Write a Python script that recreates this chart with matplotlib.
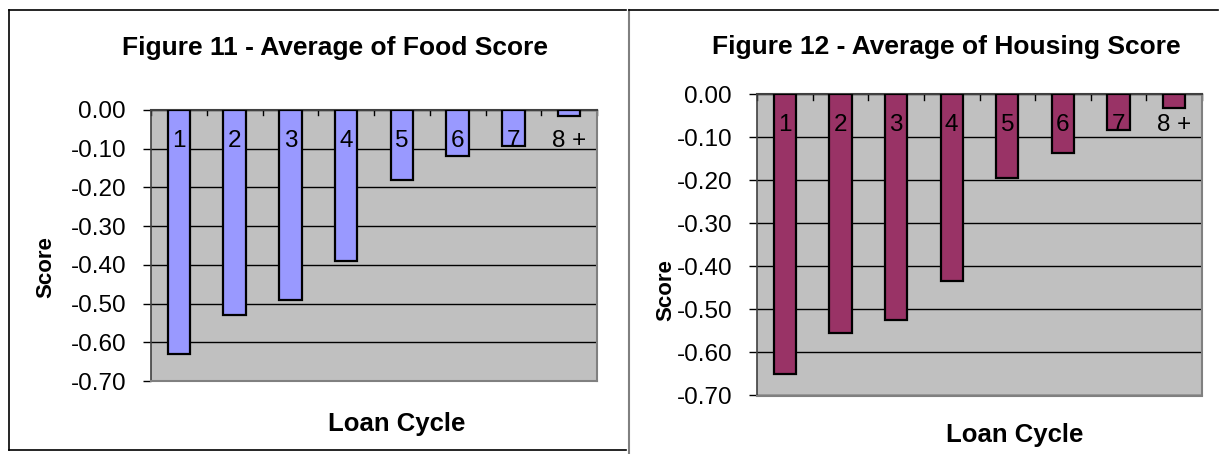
import matplotlib
matplotlib.use("Agg")
import matplotlib.pyplot as plt
from matplotlib.lines import Line2D
import numpy as np

plt.rcParams['font.family'] = ['Liberation Sans', 'DejaVu Sans']

categories = ["1", "2", "3", "4", "5", "6", "7", "8 +"]
food_scores = [-0.63, -0.53, -0.49, -0.39, -0.18, -0.118, -0.094, -0.015]
housing_scores = [-0.65, -0.554, -0.524, -0.435, -0.195, -0.137, -0.084, -0.033]
yticks = [0.0, -0.1, -0.2, -0.3, -0.4, -0.5, -0.6, -0.7]

W, H = 1219, 454
fig = plt.figure(figsize=(W / 100, H / 100), dpi=100)

def fx(px):
    return px / W

def fy(py):
    return 1 - py / H

def make_chart(rect, values, color, title, title_xy, ylab_xy, xlab_xy, lab_y):
    ax = fig.add_axes(rect)
    ax.set_facecolor('#C0C0C0')
    x = np.arange(len(categories))
    ax.bar(x, values, width=0.4, color=color, edgecolor='black', linewidth=1.6, zorder=3)
    ax.set_xlim(-0.5, len(categories) - 0.5)
    ax.set_ylim(-0.7, 0.0)
    ax.set_yticks(yticks)
    ax.set_yticklabels([f"{v:.2f}" for v in yticks], fontsize=17.5)
    ax.yaxis.grid(True, color='black', linewidth=1.0, zorder=1)
    ax.set_axisbelow(True)
    ax.set_xticks([])
    for xi in np.arange(len(categories) + 1) - 0.5:
        ax.plot([xi, xi], [0, -0.013], color='black', lw=1, zorder=2, clip_on=False)
    ax.tick_params(axis='y', direction='out', length=6, width=1, pad=12)
    for side in ['right', 'bottom']:
        ax.spines[side].set_color('#808080')
        ax.spines[side].set_linewidth(1.5)
    ax.spines['top'].set_color('#404040')
    ax.spines['top'].set_linewidth(1.5)
    ax.spines['left'].set_color('#404040')
    ax.spines['left'].set_linewidth(1.2)
    for i, c in enumerate(categories):
        ax.text(i, lab_y, c, ha='center', va='center', fontsize=17.5, zorder=5)
    fig.text(fx(title_xy[0]), fy(title_xy[1]), title, ha='center', va='center',
             fontsize=19, fontweight='bold')
    fig.text(fx(ylab_xy[0]), fy(ylab_xy[1]), 'Score', ha='center', va='center',
             rotation=90, fontsize=16, fontweight='bold')
    fig.text(fx(xlab_xy[0]), fy(xlab_xy[1]), 'Loan Cycle', ha='center', va='center',
             fontsize=18.5, fontweight='bold')
    return ax

make_chart([fx(151), fy(381), fx(597) - fx(151), fy(110) - fy(381)], food_scores, '#9999FF',
           'Figure 11 - Average of Food Score', (335, 48), (46, 267), (397, 424), -0.08)
make_chart([fx(757), fy(395.5), fx(1202) - fx(757), fy(94.3) - fy(395.5)], housing_scores, '#993366',
           'Figure 12 - Average of Housing Score', (946, 47), (666, 290), (1015, 435), -0.072)

# outer frames
fig.add_artist(Line2D([fx(9), fx(9)], [fy(10), fy(450)], color='black', lw=1.2))
fig.add_artist(Line2D([fx(9), fx(626)], [fy(10.3), fy(10.3)], color='black', lw=1.2))
fig.add_artist(Line2D([fx(9), fx(626)], [fy(450), fy(450)], color='black', lw=1.2))
fig.add_artist(Line2D([fx(629), fx(629)], [fy(10), fy(454)], color='#808080', lw=1.5))
fig.add_artist(Line2D([fx(629), fx(1218)], [fy(10.3), fy(10.3)], color='black', lw=1.2))

fig.savefig('out.png', dpi=100)
